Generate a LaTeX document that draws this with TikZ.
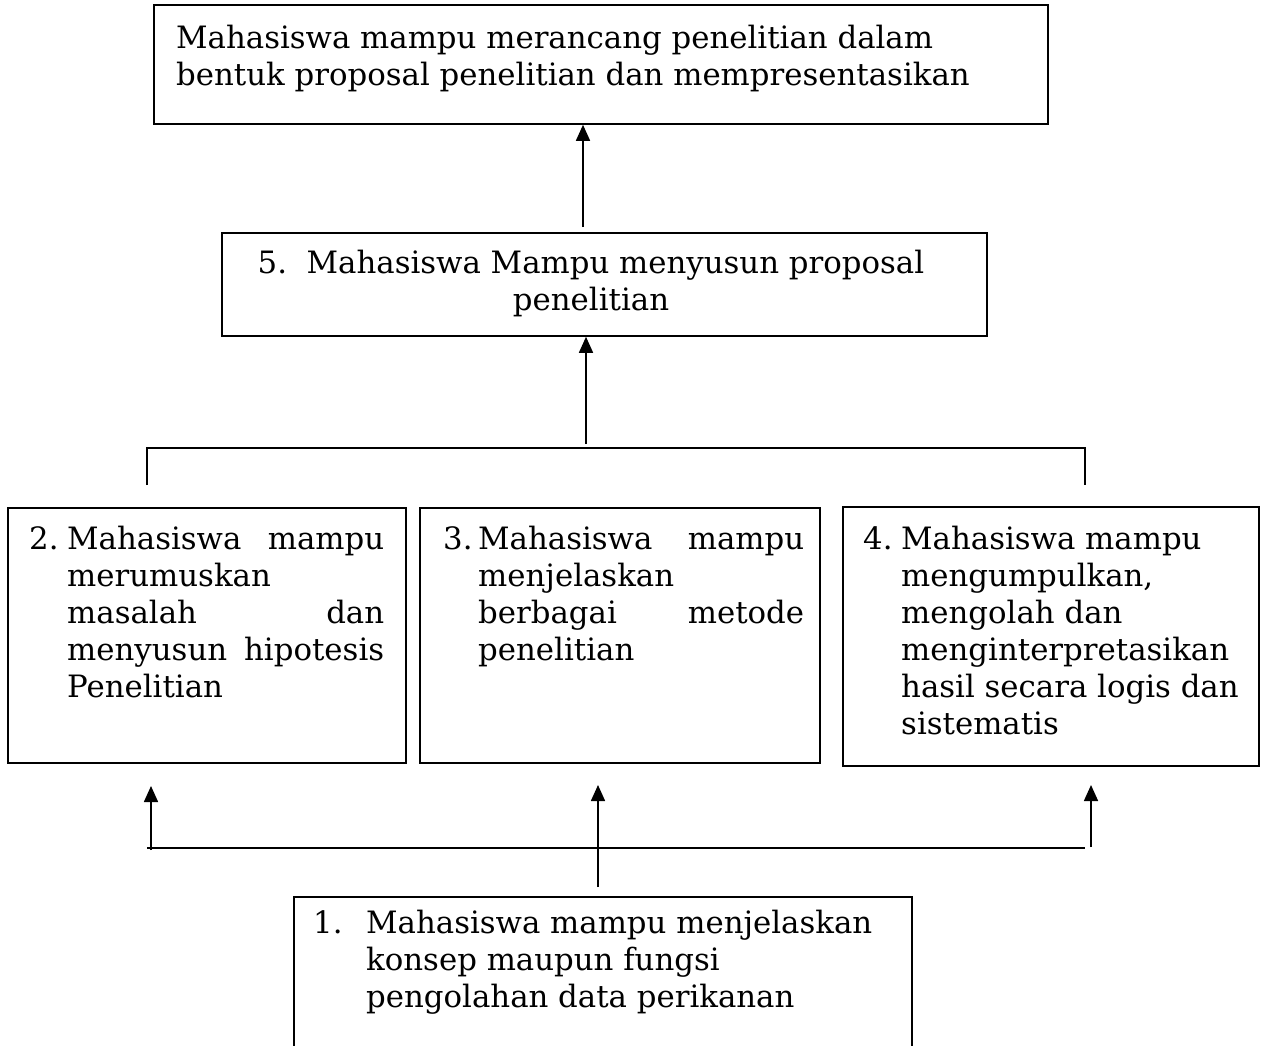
\documentclass[tikz,border=0pt]{standalone}
\usepackage{fontspec}
\setmainfont{DejaVu Serif}
\usetikzlibrary{arrows.meta}
\begin{document}
\begin{tikzpicture}[x=1pt,y=-1pt,
  box/.style={draw, line width=1.6pt, rectangle, inner sep=0pt},
  txt/.style={inner sep=0pt, font=\fontsize{30.8}{37}\selectfont},
  arr/.style={line width=1.6pt, -{Triangle[length=16pt,width=14pt]}},
  ln/.style={line width=1.6pt}]
\useasboundingbox (0,0) rectangle (1266,1046);
% boxes
\node[box, minimum width=894pt, minimum height=119pt] (top) at (601,64.5) {};
\node[box, minimum width=765pt, minimum height=103pt] (b5) at (604.5,284.5) {};
\node[box, minimum width=398pt, minimum height=255pt] (b2) at (207,635.5) {};
\node[box, minimum width=400pt, minimum height=255pt] (b3) at (620,635.5) {};
\node[box, minimum width=416pt, minimum height=259pt] (b4) at (1051,636.5) {};
\node[box, minimum width=618pt, minimum height=303pt] (b1) at (603,1048.5) {};
% texts
\node[txt, anchor=base west] (t0) at (176,49) {\vtop{\baselineskip=37pt
  \hbox{Mahasiswa mampu merancang penelitian dalam}
  \hbox{bentuk proposal penelitian dan mempresentasikan}}};
\node[txt, anchor=base] (t5) at (591,273) {\vtop{\baselineskip=37pt
  \halign{\hfil#\hfil\cr 5.\ \ Mahasiswa Mampu menyusun proposal\cr penelitian\cr}}};
\node[txt, anchor=base west] (t2) at (29,549) {\hbox to 38pt{2.\hfil}\vtop{\baselineskip=37pt
  \hbox to 317pt{Mahasiswa\hfill mampu}
  \hbox{merumuskan}
  \hbox to 317pt{masalah\hfill dan}
  \hbox to 317pt{menyusun\hfill hipotesis}
  \hbox{Penelitian}}};
\node[txt, anchor=base west] (t3) at (443,549) {\hbox to 35pt{3.\hfil}\vtop{\baselineskip=37pt
  \hbox to 326pt{Mahasiswa\hfill mampu}
  \hbox{menjelaskan}
  \hbox to 326pt{berbagai\hfill metode}
  \hbox{penelitian}}};
\node[txt, anchor=base west] (t4) at (863,549) {\hbox to 38pt{4.\hfil}\vtop{\baselineskip=37pt
  \hbox{Mahasiswa mampu}
  \hbox{mengumpulkan,}
  \hbox{mengolah dan}
  \hbox{menginterpretasikan}
  \hbox{hasil secara logis dan}
  \hbox{sistematis}}};
\node[txt, anchor=base west] (t1) at (313,933) {\hbox to 53pt{1.\hfil}\vtop{\baselineskip=37pt
  \hbox{Mahasiswa mampu menjelaskan}
  \hbox{konsep maupun fungsi}
  \hbox{pengolahan data perikanan}}};
% connectors
\coordinate (c1) at (583,0);
\draw[arr, shorten <=5pt] (b5.north -| c1) -- (top.south -| c1);
\coordinate (c2) at (586,444);
\draw[arr] (c2) -- (b5.south -| c2);
\coordinate (brL) at (147,485);
\coordinate (brR) at (1085,485);
\coordinate (brT) at (0,448);
\draw[ln] (brL) -- (brL |- brT) -- (brR |- brT) -- (brR);
\coordinate (hL) at (147,848);
\coordinate (hR) at (1085,848);
\draw[ln] (hL) -- (hR);
\coordinate (aL) at (151,850);
\coordinate (aLt) at (151,786);
\draw[arr] (aL) -- (aLt);
\coordinate (aR) at (1091,847);
\coordinate (aRt) at (1091,785);
\draw[arr] (aR) -- (aRt);
\coordinate (aM) at (598,785);
\draw[arr, shorten <=9pt] (b1.north -| aM) -- (aM);
\end{tikzpicture}
\end{document}
